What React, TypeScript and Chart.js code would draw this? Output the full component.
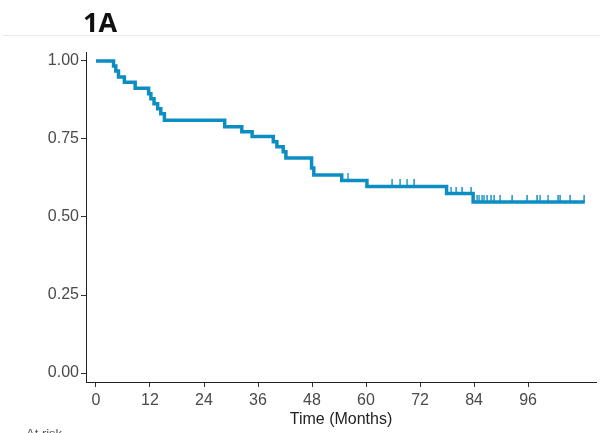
import React, { useEffect, useRef } from 'react';
import { Chart, registerables } from 'chart.js';

Chart.register(...registerables);

// Kaplan-Meier step points (months, survival probability)
const eventTimes = [0, 3.9, 4.4, 5.0, 6.3, 8.7, 11.7, 12.2, 12.9, 13.7, 14.4, 15.2, 28.6, 32.4, 34.7, 39.4, 40.2, 41.6, 42.2, 47.9, 48.4, 54.6, 60.2, 77.9, 83.8, 108.6];
const survival = [1.0, 0.984, 0.968, 0.949, 0.932, 0.913, 0.895, 0.879, 0.863, 0.847, 0.831, 0.81, 0.789, 0.773, 0.758, 0.741, 0.725, 0.709, 0.689, 0.657, 0.635, 0.617, 0.598, 0.575, 0.548, 0.548];

// Censoring marks (months)
const censorTimes = [56.1, 65.8, 67.6, 69.2, 70.6, 78.9, 80.0, 81.3, 83.3, 84.7, 85.2, 85.8, 86.3, 86.9, 87.7, 88.4, 89.8, 92.4, 95.7, 97.9, 98.7, 100.5, 102.6, 103.1, 105.3, 108.4];

const xTicks = [0, 12, 24, 36, 48, 60, 72, 84, 96];
const yTicks = [0, 0.25, 0.5, 0.75, 1.0];

const panelTitle = '1A';
const xTitle = 'Time (Months)';
const riskLabel = 'At risk';

const LINE_COLOR = '#0c8ec3';

function survivalAt(t: number): number {
  let s = survival[0];
  for (let i = 0; i < eventTimes.length; i++) {
    if (eventTimes[i] <= t) s = survival[i];
  }
  return s;
}

export default function App() {
  const ref = useRef<HTMLCanvasElement | null>(null);

  useEffect(() => {
    if (!ref.current) return;
    const tick = document.createElement('canvas');
    tick.width = 2;
    tick.height = 14;
    const tctx = tick.getContext('2d');
    if (tctx) {
      tctx.fillStyle = LINE_COLOR;
      tctx.fillRect(0.4, 0, 1.4, 7);
    }

    const chart = new Chart(ref.current, {
      type: 'line',
      data: {
        datasets: [
          {
            data: eventTimes.map((t, i) => ({ x: t, y: survival[i] })),
            borderColor: LINE_COLOR,
            borderWidth: 3.5,
            stepped: 'before',
            pointRadius: 0,
            fill: false,
          },
          {
            data: censorTimes.map((t) => ({ x: t, y: survivalAt(t) })),
            showLine: false,
            pointStyle: tick as any,
            pointRadius: 7,
            borderColor: LINE_COLOR,
            backgroundColor: LINE_COLOR,
          },
        ],
      },
      options: {
        responsive: false,
        animation: false,
        layout: { padding: { top: 52, right: 10, left: 0, bottom: 0 } },
        plugins: { legend: { display: false }, tooltip: { enabled: false } },
        scales: {
          x: {
            type: 'linear',
            min: -2.22,
            max: 111.1,
            afterBuildTicks: (s: any) => {
              s.ticks = xTicks.map((v) => ({ value: v }));
            },
            afterFit: (s: any) => {
              s.height = 51;
            },
            grid: { display: true, drawOnChartArea: false, drawTicks: true, tickLength: 5, color: '#333' },
            border: { display: true, color: '#222', width: 1 },
            ticks: {
              padding: 4,
              color: '#4a4a4a',
              font: { family: 'Liberation Sans, Arial, sans-serif', size: 16 },
              maxRotation: 0,
              callback: (v: any) => String(v),
            },
            title: {
              display: true,
              text: xTitle,
              color: '#222',
              padding: { top: 0, bottom: 4 },
              font: { family: 'Liberation Sans, Arial, sans-serif', size: 16 },
            },
          },
          y: {
            type: 'linear',
            min: -0.0288,
            max: 1.0288,
            afterBuildTicks: (s: any) => {
              s.ticks = yTicks.map((v) => ({ value: v }));
            },
            afterFit: (s: any) => {
              s.width = 86;
            },
            grid: { display: true, drawOnChartArea: false, drawTicks: true, tickLength: 5, color: '#333' },
            border: { display: true, color: '#222', width: 1 },
            ticks: {
              padding: 2,
              color: '#4a4a4a',
              font: { family: 'Liberation Sans, Arial, sans-serif', size: 16 },
              callback: (v: any) => Number(v).toFixed(2),
            },
          },
        },
      },
    });
    return () => chart.destroy();
  }, []);

  return (
    <div style={{ position: 'fixed', left: 0, top: 0, width: 606, height: 433, background: '#fff', overflow: 'hidden' }}>
      <canvas ref={ref} width={606} height={433} style={{ position: 'absolute', left: 0, top: 0, width: 606, height: 433 }} />
      <div
        style={{
          position: 'absolute',
          left: 83,
          top: 4,
          fontFamily: '"Open Sans", sans-serif',
          fontWeight: 700,
          fontSize: 27,
          color: '#111',
          lineHeight: '36px',
        }}
      >
        {panelTitle}
      </div>
      <div style={{ position: 'absolute', left: 3, top: 35, width: 597, height: 1, background: '#e6eaec' }} />
      <div
        style={{
          position: 'absolute',
          left: 26,
          top: 426,
          fontFamily: 'Liberation Sans, Arial, sans-serif',
          fontSize: 13,
          color: '#555',
          lineHeight: '16px',
          whiteSpace: 'nowrap',
        }}
      >
        {riskLabel}
      </div>
    </div>
  );
}
